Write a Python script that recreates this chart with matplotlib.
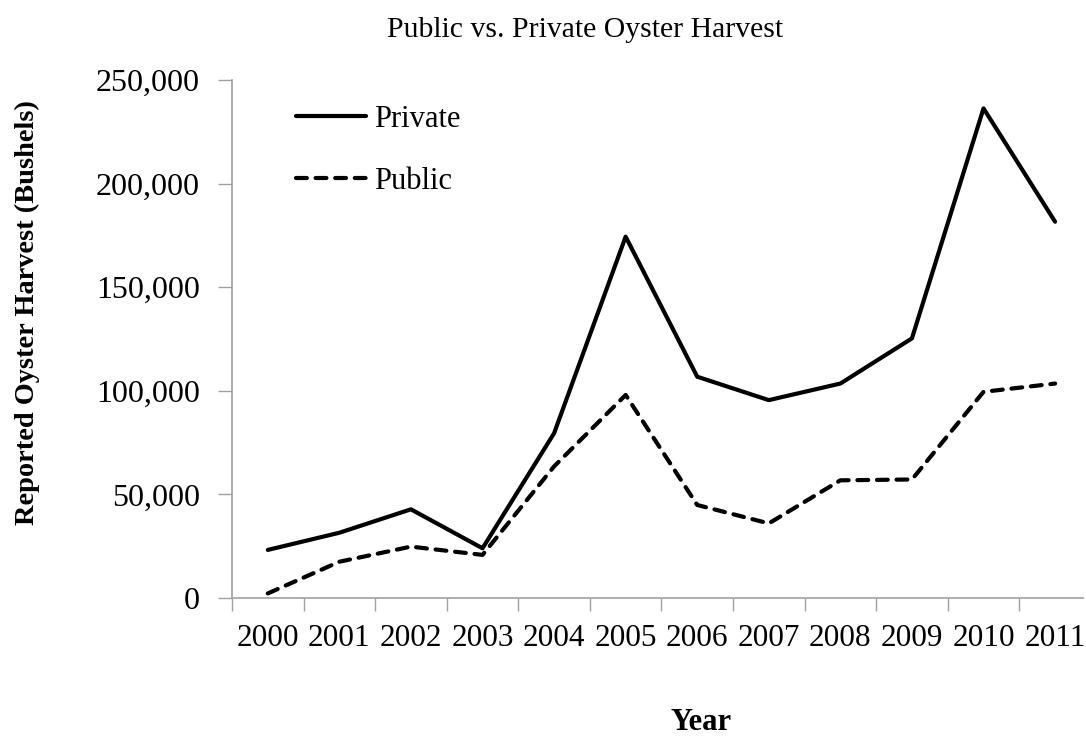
import matplotlib
matplotlib.use('agg')
import matplotlib.pyplot as plt
import matplotlib.ticker as mticker
import numpy as np

years = ['2000', '2001', '2002', '2003', '2004', '2005',
         '2006', '2007', '2008', '2009', '2010', '2011']
private = [23200, 31500, 42800, 24000, 79500, 174400,
           106800, 95500, 103500, 125300, 236300, 181600]
public = [2200, 17500, 24800, 20800, 63500, 98000,
          44900, 36000, 56800, 57200, 99500, 103500]

plt.rcParams['font.family'] = ['Liberation Serif', 'DejaVu Serif']
axis_grey = '#a0a0a0'

fig = plt.figure(figsize=(10.86, 7.38), dpi=100)
ax = fig.add_axes([232 / 1086, 1 - 598 / 738, (1083 - 232) / 1086, (598 - 80) / 738])

x = np.arange(len(years))
ax.plot(x, private, '-', color='black', lw=3, solid_capstyle='round',
        solid_joinstyle='round', label='Private')
ax.plot(x, public, color='black', lw=3, dashes=(2.6, 2.1), dash_capstyle='round',
        dash_joinstyle='round', label='Public')

ax.set_xlim(-0.5, 11.39)
ax.set_ylim(0, 250000)

ax.set_xticks(np.arange(-0.5, 11.0, 1.0))
ax.set_xticklabels([])
ax.set_xticks(x, minor=True)
ax.set_xticklabels(years, minor=True, fontsize=22.5)
ax.tick_params(axis='x', which='major', direction='out', length=9, color=axis_grey, width=1)
ax.tick_params(axis='x', which='minor', length=0, pad=19)

ax.yaxis.set_major_locator(mticker.MultipleLocator(50000))
ax.yaxis.set_major_formatter(mticker.FuncFormatter(lambda v, p: '{:,.0f}'.format(v)))
ax.tick_params(axis='y', direction='out', length=10, color=axis_grey, width=1,
               labelsize=23, pad=13)

for s in ['top', 'right']:
    ax.spines[s].set_visible(False)
for s in ['left', 'bottom']:
    ax.spines[s].set_color(axis_grey)
    ax.spines[s].set_linewidth(1.2)

leg = ax.legend(loc='upper left', bbox_to_anchor=(0.043, 1.005), frameon=False,
                fontsize=22, handlelength=2.3, handletextpad=0.25, labelspacing=1.08)

fig.text(585 / 1086, 1 - 30 / 738, 'Public vs. Private Oyster Harvest',
         ha='center', va='center', fontsize=21.4)
fig.text(27 / 1086, 1 - 313 / 738, 'Reported Oyster Harvest (Bushels)',
         rotation=90, ha='center', va='center', fontsize=20.4, fontweight='bold')
fig.text(701 / 1086, 1 - 708 / 738, 'Year', ha='center', va='top',
         fontsize=22, fontweight='bold')

fig.savefig('out.png', dpi=100)
